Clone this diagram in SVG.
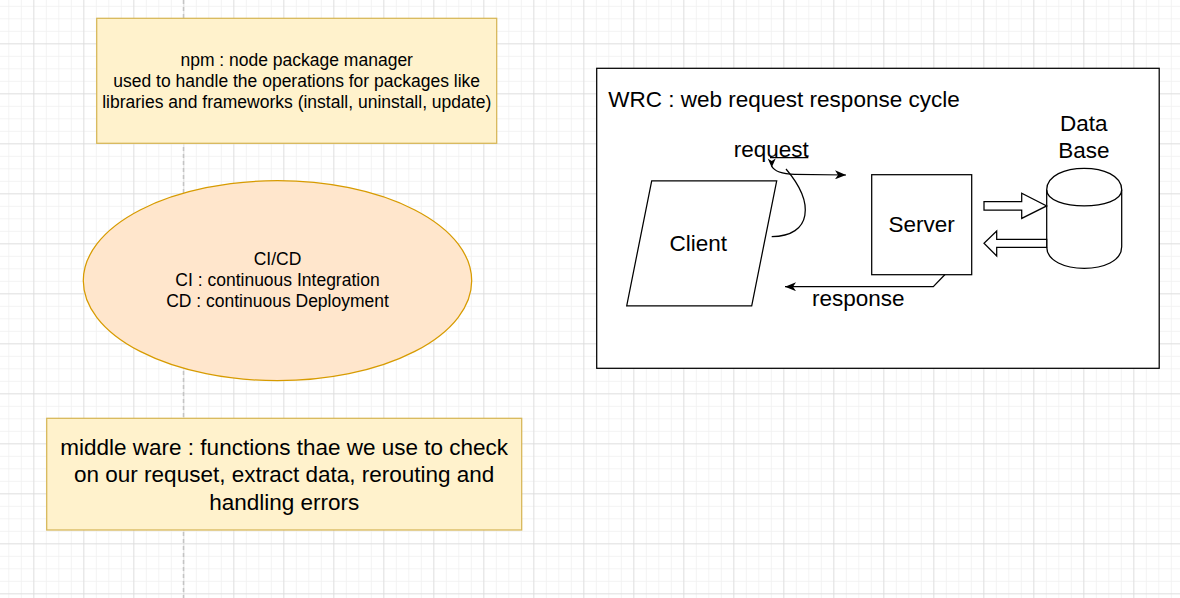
<svg xmlns="http://www.w3.org/2000/svg" width="1180" height="598" viewBox="0 0 1180 598">
<style>
text{font-family:"Liberation Sans",Arial,Helvetica,sans-serif;fill:#000}
.s{font-size:17.5px;text-anchor:middle}
.l{font-size:22.5px;text-anchor:middle}
.note{fill:#fff2cc;stroke:#d6b656;stroke-width:1.25}
.ell{fill:#ffe6cc;stroke:#d79b00;stroke-width:1.25}
.shp{fill:#fff;stroke:#000;stroke-width:1.25}
.edge{fill:none;stroke:#000;stroke-width:1.25}
</style>
<defs>
<pattern id="minor" patternUnits="userSpaceOnUse" x="8.33" y="5.83" width="12.5" height="12.5">
<path d="M0,0 H12.5 M0,0 V12.5" fill="none" stroke="#f0f0f0" stroke-width="1.5"/>
</pattern>
<pattern id="major" patternUnits="userSpaceOnUse" x="33.33" y="43.33" width="50" height="50">
<path d="M0,0 H50 M0,0 V50" fill="none" stroke="#dcdcdc" stroke-width="1.5"/>
</pattern>
<marker id="arr" viewBox="0 0 11 9" refX="11" refY="4.5" markerWidth="11" markerHeight="9" orient="auto" markerUnits="userSpaceOnUse">
<path d="M0,0 L11,4.5 L0,9 L3,4.5 Z" fill="#000"/>
</marker>
</defs>
<rect width="1180" height="598" fill="#fff"/>
<rect width="1180" height="598" fill="url(#minor)"/>
<rect width="1180" height="598" fill="url(#major)"/>
<line x1="183.5" y1="0" x2="183.5" y2="598" stroke="#c4c4c4" stroke-width="1.5" stroke-dasharray="4 3"/>

<g id="npm">
<rect class="note" x="96.7" y="18.3" width="400" height="125"/>
<text class="s" x="296.7" y="65.6">npm : node package manager</text>
<text class="s" x="296.7" y="86.6">used to handle the operations for packages like</text>
<text class="s" x="296.7" y="107.6">libraries and frameworks (install, uninstall, update)</text>
</g>

<g id="cicd">
<ellipse class="ell" cx="277.5" cy="280.7" rx="194.2" ry="100"/>
<text class="s" x="277.5" y="265.3">CI/CD</text>
<text class="s" x="277.5" y="286.3">CI : continuous Integration</text>
<text class="s" x="277.5" y="307.3">CD : continuous Deployment</text>
</g>

<g id="middleware">
<rect class="note" x="46.7" y="418.3" width="475" height="111.7"/>
<text class="l" x="284.2" y="454.7">middle ware : functions thae we use to check</text>
<text class="l" x="284.2" y="482">on our requset, extract data, rerouting and</text>
<text class="l" x="284.2" y="509.5">handling errors</text>
</g>

<g id="wrc">
<rect class="shp" x="596.7" y="68.3" width="562.5" height="300"/>
<text x="608.3" y="106.5" style="font-size:22.5px">WRC : web request response cycle</text>
</g>

<g id="client">
<path class="shp" d="M651.7,180.8 L776.7,180.8 L751.7,305.8 L626.7,305.8 Z"/>
<text class="l" x="698.3" y="250.7">Client</text>
</g>

<g id="server">
<rect class="shp" x="871.7" y="174.7" width="100" height="100"/>
<text class="l" x="921.7" y="232">Server</text>
</g>

<g id="database">
<path class="shp" d="M1046.7,189.8 C1046.7,161.1 1121.7,161.1 1121.7,189.8 L1121.7,246.8 C1121.7,275.5 1046.7,275.5 1046.7,246.8 Z"/>
<path class="edge" d="M1046.7,189.8 C1046.7,211.3 1121.7,211.3 1121.7,189.8"/>
<text class="l" x="1083.8" y="131.3">Data</text>
<text class="l" x="1083.8" y="158">Base</text>
</g>

<g id="connectors">
<path class="edge" d="M771.7,236.7 C812,236 815,203 786,169"/>
<path class="edge" d="M771.7,166 C774,171 782,174 795,174.3 L846,175" marker-end="url(#arr)"/>
<path d="M767.7,158.5 L771.7,161 L775.7,158.5 L771.7,167.5 Z" fill="#000"/>
<line class="edge" x1="770" y1="157.7" x2="808.3" y2="157.7"/>
<path class="edge" d="M945,274.5 L933.3,286.7 L785,286.7" marker-end="url(#arr)"/>
<path class="shp" d="M984,201.7 L1021.7,201.7 L1021.7,193.3 L1046.7,205.9 L1021.7,218.4 L1021.7,210 L984,210 Z"/>
<path class="shp" d="M1046.7,239.3 L996.7,239.3 L996.7,231 L984,243.3 L996.7,256 L996.7,247.3 L1046.7,247.3 Z"/>
<text class="l" x="771.2" y="157.3">request</text>
<text class="l" x="858.3" y="306.3">response</text>
</g>
</svg>
